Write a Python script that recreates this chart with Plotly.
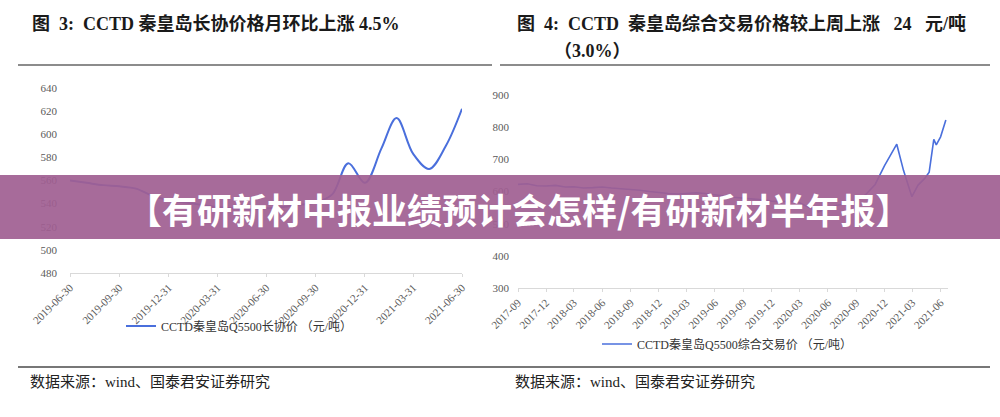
import plotly.graph_objects as go

W, H = 1000, 417

# ---- Left chart data: CCTD 秦皇岛Q5500长协价 (monthly) ----
left_dates = ["2019-06-30", "2019-07-31", "2019-08-31", "2019-09-30", "2019-10-31",
              "2019-11-30", "2019-12-31", "2020-01-31", "2020-02-29", "2020-03-31",
              "2020-04-30", "2020-05-31", "2020-06-30", "2020-07-31", "2020-08-31",
              "2020-09-30", "2020-10-31", "2020-11-30", "2020-12-31", "2021-01-31",
              "2021-02-28", "2021-03-31", "2021-04-30", "2021-05-31", "2021-06-30"]
left_values = [560, 558, 556, 555, 553, 547, 543, 541, 539, 537,
               536, 535, 536, 537, 539, 541, 548, 575, 558, 588,
               614, 583, 570, 590, 622]
left_ticks = ["2019-06-30", "2019-09-30", "2019-12-31", "2020-03-31", "2020-06-30",
              "2020-09-30", "2020-12-31", "2021-03-31", "2021-06-30"]

# ---- Right chart data: CCTD 秦皇岛Q5500综合交易价 ----
right_dates = ["2017-09-01", "2017-10-01", "2017-11-01", "2017-12-01", "2018-01-01",
               "2018-02-01", "2018-03-01", "2018-04-01", "2018-05-01", "2018-06-01",
               "2018-07-01", "2018-08-01", "2018-09-01", "2018-10-01", "2018-11-01",
               "2018-12-01", "2019-01-01", "2019-02-01", "2019-03-01", "2019-04-01",
               "2019-05-01", "2019-06-01", "2019-07-01", "2019-08-01", "2019-09-01",
               "2019-10-01", "2019-11-01", "2019-12-01", "2020-01-01", "2020-02-01",
               "2020-03-01", "2020-04-01", "2020-05-01", "2020-06-01", "2020-07-01",
               "2020-08-01", "2020-09-01", "2020-10-01", "2020-11-01", "2020-12-01",
               "2021-01-10", "2021-02-01", "2021-02-28", "2021-03-20", "2021-04-10",
               "2021-04-25", "2021-05-10", "2021-05-18", "2021-06-01", "2021-06-18"]
right_values = [622, 624, 618, 617, 619, 614, 615, 611, 612, 614,
                611, 609, 606, 604, 600, 596, 594, 592, 594, 596,
                594, 591, 586, 582, 580, 577, 574, 570, 568, 570,
                565, 550, 537, 548, 557, 562, 570, 590, 622, 680,
                747, 665, 584, 620, 640, 660, 762, 745, 770, 822]
right_ticks = ["2017-09", "2017-12", "2018-03", "2018-06", "2018-09", "2018-12",
               "2019-03", "2019-06", "2019-09", "2019-12", "2020-03", "2020-06",
               "2020-09", "2020-12", "2021-03", "2021-06"]

LINE = "#4a6fdc"
SERIF = "Liberation Serif, Noto Sans CJK SC"
TICKF = dict(family=SERIF, size=11, color="#5a5a5a")

fig = go.Figure()
fig.add_trace(go.Scatter(x=left_dates, y=left_values, mode="lines",
                         line=dict(color=LINE, width=2, shape="spline", smoothing=1.0),
                         name="CCTD秦皇岛Q5500长协价 （元/吨）",
                         xaxis="x", yaxis="y", legend="legend"))
fig.add_trace(go.Scatter(x=right_dates, y=right_values, mode="lines",
                         line=dict(color=LINE, width=1.6),
                         name="CCTD秦皇岛Q5500综合交易价 （元/吨）",
                         xaxis="x2", yaxis="y2", legend="legend2"))

def px_x(p):
    return p / W

def px_y(p):
    return 1 - p / H

fig.update_layout(
    width=W, height=H,
    margin=dict(l=0, r=0, t=0, b=0, autoexpand=False),
    paper_bgcolor="white", plot_bgcolor="white",
    xaxis=dict(domain=[px_x(70), px_x(462)], type="date",
               range=["2019-06-30", "2021-06-30"],
               tickvals=left_ticks, ticktext=left_ticks, tickangle=-45,
               tickfont=TICKF, showgrid=False, zeroline=False,
               showline=True, linecolor="#d9d9d9", linewidth=1,
               ticks="outside", ticklen=3, tickcolor="#d9d9d9",
               anchor="y", automargin=False),
    yaxis=dict(domain=[px_y(273), px_y(88)], range=[480, 640], dtick=20,
               tickfont=TICKF, showgrid=False, zeroline=False, showline=False,
               ticklabelstandoff=12, anchor="x", automargin=False),
    xaxis2=dict(domain=[px_x(518), px_x(948)], type="date",
                range=["2017-09-01", "2021-06-25"],
                tickvals=[d + "-01" for d in right_ticks], ticktext=right_ticks,
                tickangle=-45, tickfont=TICKF, showgrid=False, zeroline=False,
                showline=True, linecolor="#d9d9d9", linewidth=1,
                ticks="outside", ticklen=3, tickcolor="#d9d9d9",
                anchor="y2", automargin=False),
    yaxis2=dict(domain=[px_y(288), px_y(95)], range=[300, 900], dtick=100,
                tickfont=TICKF, showgrid=False, zeroline=False, showline=False,
                ticklabelstandoff=8, anchor="x2", automargin=False),
    legend=dict(x=px_x(121), y=px_y(326), xanchor="left", yanchor="middle",
                bgcolor="rgba(0,0,0,0)", itemwidth=30,
                font=dict(family=SERIF, size=12, color="#333")),
    legend2=dict(x=px_x(597), y=px_y(344), xanchor="left", yanchor="middle",
                 bgcolor="rgba(0,0,0,0)", itemwidth=30,
                 font=dict(family=SERIF, size=12, color="#333")),
    showlegend=True,
)

TITLE_F = dict(family=SERIF, size=18, color="#1a1a1a", weight="bold")
SRC_F = dict(family=SERIF, size=15, color="#222")
ann = [
    dict(text="图  3:  CCTD 秦皇岛长协价格月环比上涨 4.5%", x=px_x(30), y=px_y(24),
         xanchor="left", yanchor="middle", font=TITLE_F),
    dict(text="图  4:  CCTD  秦皇岛综合交易价格较上周上涨   24   元/吨", x=px_x(515), y=px_y(24),
         xanchor="left", yanchor="middle", font=TITLE_F),
    dict(text="（3.0%）", x=px_x(552), y=px_y(51),
         xanchor="left", yanchor="middle", font=TITLE_F),
    dict(text="数据来源：wind、国泰君安证券研究", x=px_x(28), y=px_y(382),
         xanchor="left", yanchor="middle", font=SRC_F),
    dict(text="数据来源：wind、国泰君安证券研究", x=px_x(513), y=px_y(382),
         xanchor="left", yanchor="middle", font=SRC_F),
    dict(text="【有研新材中报业绩预计会怎样/有研新材半年报】", x=0.519, y=px_y(208),
         xanchor="center", yanchor="middle",
         font=dict(family="Noto Sans CJK SC", size=35, color="white", weight="bold")),
]
for a in ann:
    a.update(xref="paper", yref="paper", showarrow=False)
fig.update_layout(annotations=ann)

shapes = [
    dict(type="line", x0=px_x(18), x1=px_x(492), y0=px_y(65), y1=px_y(65),
         line=dict(color="#666", width=1.5)),
    dict(type="line", x0=px_x(500), x1=px_x(990), y0=px_y(65), y1=px_y(65),
         line=dict(color="#666", width=1.5)),
    dict(type="line", x0=px_x(18), x1=px_x(990), y0=px_y(367), y1=px_y(367),
         line=dict(color="#777", width=2)),
    dict(type="rect", x0=0, x1=1, y0=px_y(239), y1=px_y(175),
         fillcolor="rgb(160,94,145)", opacity=0.92, line=dict(width=0), layer="above"),
]
for s in shapes:
    s.update(xref="paper", yref="paper")
fig.update_layout(shapes=shapes)

fig.write_html("out.html", config={"displayModeBar": False},
               post_script="document.body.style.margin='0';document.body.style.overflow='hidden';")
